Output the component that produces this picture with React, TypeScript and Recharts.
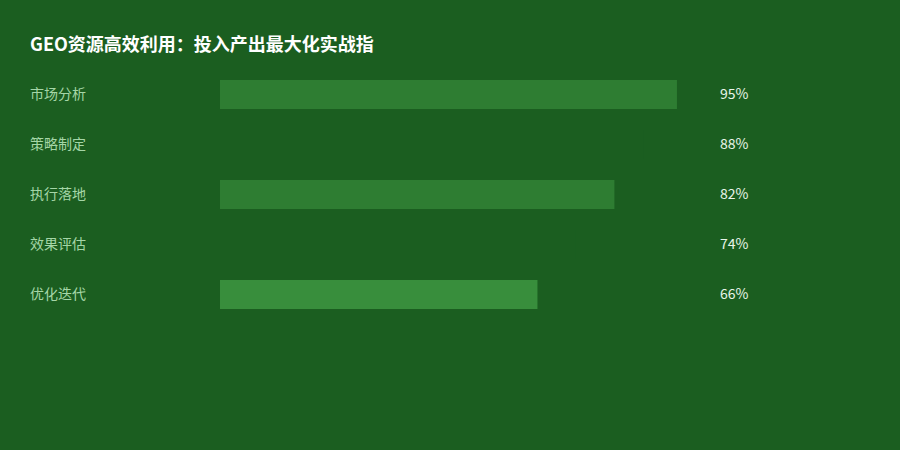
import { BarChart, Bar, XAxis, YAxis, Cell } from 'recharts'

const FONT = "'Noto Sans CJK SC', 'Noto Sans', sans-serif"
const BG = '#1B5E20'

const categories = ['市场分析', '策略制定', '执行落地', '效果评估', '优化迭代']
const values = [95, 88, 82, 74, 66]
const barColors = ['#2E7D32', '#1B5E20', '#2E7D32', '#1B5E20', '#388E3C']

const data = categories.map((name, i) => ({ name, value: values[i] }))

function LeftTick({ y, payload }: any) {
  return (
    <text x={30} y={y} dy={5} textAnchor="start" fill="#A5D6A7" fontSize={14} fontFamily={FONT}>
      {payload.value}
    </text>
  )
}

function RightTick({ x, y, payload }: any) {
  const row = data.find(d => d.name === payload.value)
  return (
    <text x={x + 13} y={y} dy={5} textAnchor="start" fill="#E8F5E9" fontSize={14} fontFamily={FONT}>
      {row ? `${row.value}%` : ''}
    </text>
  )
}

export default function App() {
  return (
    <div style={{ position: 'fixed', left: 0, top: 0, width: 900, height: 450, background: BG, overflow: 'hidden' }}>
      <div style={{ position: 'absolute', left: 30, top: 30, fontSize: 18, fontWeight: 700, color: '#FFFFFF', fontFamily: FONT, whiteSpace: 'nowrap' }}>
        GEO资源高效利用：投入产出最大化实战指
      </div>
      <BarChart width={900} height={450} data={data} layout="vertical" margin={{ top: 69, right: 0, bottom: 131, left: 0 }} barCategoryGap={0}>
        <XAxis type="number" domain={[0, 100]} hide />
        <YAxis yAxisId="left" type="category" dataKey="name" width={220} axisLine={false} tickLine={false} tick={<LeftTick />} />
        <YAxis yAxisId="right" orientation="right" type="category" dataKey="name" width={199} axisLine={false} tickLine={false} tickMargin={0} tick={<RightTick />} />
        <Bar yAxisId="left" dataKey="value" barSize={29} isAnimationActive={false}>
          {data.map((d, i) => <Cell key={d.name} fill={barColors[i]} />)}
        </Bar>
      </BarChart>
    </div>
  )
}
